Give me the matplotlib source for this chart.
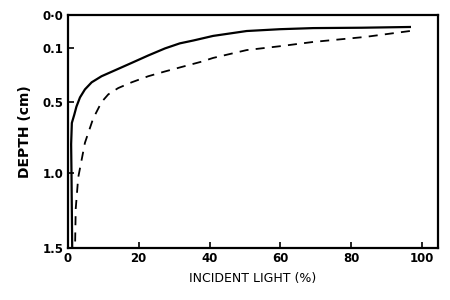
import numpy as np
import matplotlib
matplotlib.use('Agg')
import matplotlib.pyplot as plt

# depth axis of the original is not linear: tick value -> relative position
depth_ticks = [0.0, 0.1, 0.5, 1.0, 1.5]
depth_tick_labels = ['0·0', '0.1', '0.5', '1.0', '1.5']
depth_pos = [0, 33, 87, 158, 233]
light_ticks = [0, 20, 40, 60, 80, 100]

# solid curve (incident light %, depth cm)
solid_light = [96.6, 83.0, 69.3, 59.9, 50.5, 41.0, 35.5, 31.6, 27.4, 22.7, 18.0,
               13.3, 9.5, 6.7, 4.8, 3.4, 2.4, 1.8, 1.1, 0.9, 1.0, 1.2]
solid_depth = [0.032, 0.034, 0.035, 0.038, 0.043, 0.057, 0.071, 0.081, 0.102, 0.138, 0.182,
               0.233, 0.28, 0.333, 0.397, 0.465, 0.533, 0.59, 0.65, 0.80, 1.0, 1.5]

# dashed curve
dash_light = [96.6, 84.0, 69.3, 59.9, 50.5, 41.0, 37.8, 32.3, 27.4, 22.7, 18.0,
              14.2, 11.4, 9.5, 8.1, 7.1, 4.8, 2.9, 2.2, 2.0]
dash_depth = [0.043, 0.060, 0.076, 0.092, 0.110, 0.152, 0.174, 0.208, 0.242, 0.28, 0.333,
              0.385, 0.44, 0.50, 0.57, 0.62, 0.79, 1.03, 1.24, 1.5]


def pchip_slopes(x, y):
    x = np.asarray(x, float)
    y = np.asarray(y, float)
    h = np.diff(x)
    s = np.diff(y) / h
    d = np.zeros_like(y)
    for k in range(1, len(x) - 1):
        w1 = 2 * h[k] + h[k - 1]
        w2 = h[k] + 2 * h[k - 1]
        d[k] = (w1 + w2) / (w1 / s[k - 1] + w2 / s[k])
    d[0] = ((2 * h[0] + h[1]) * s[0] - h[0] * s[1]) / (h[0] + h[1])
    d[-1] = ((2 * h[-1] + h[-2]) * s[-1] - h[-1] * s[-2]) / (h[-1] + h[-2])
    return d


_slopes = pchip_slopes(depth_ticks, depth_pos)


def _hermite(v):
    xk = np.asarray(depth_ticks, float)
    yk = np.asarray(depth_pos, float)
    v = np.clip(np.asarray(v, float), xk[0], xk[-1])
    i = np.clip(np.searchsorted(xk, v) - 1, 0, len(xk) - 2)
    h = xk[i + 1] - xk[i]
    t = (v - xk[i]) / h
    return ((1 - 3 * t**2 + 2 * t**3) * yk[i] + (t - 2 * t**2 + t**3) * h * _slopes[i]
            + (3 * t**2 - 2 * t**3) * yk[i + 1] + (t**3 - t**2) * h * _slopes[i + 1])


_grid = np.linspace(0, 1.5, 3001)
_grid_pos = _hermite(_grid)


def fwd(d):
    return np.interp(d, _grid, _grid_pos)


def inv(p):
    return np.interp(p, _grid_pos, _grid)


plt.rcParams['font.family'] = ['DejaVu Sans']

fig = plt.figure(figsize=(4.5, 3), dpi=100)
ax = fig.add_axes([0.151, 0.173, 0.822, 0.777])

ax.plot(solid_light, solid_depth, color='black', lw=1.6)
ax.plot(dash_light, dash_depth, color='black', lw=1.3, dashes=(5, 4))

ax.set_yscale('function', functions=(fwd, inv))
ax.set_ylim(1.5, 0.0)
ax.set_xlim(0, 104.5)

ax.set_yticks(depth_ticks)
ax.set_yticklabels(depth_tick_labels)
ax.set_xticks(light_ticks)
ax.minorticks_off()

ax.tick_params(direction='in', length=4, width=1.2, labelsize=8.5, pad=3)
for lab in ax.get_yticklabels() + ax.get_xticklabels():
    lab.set_fontweight('bold')

for sp in ax.spines.values():
    sp.set_linewidth(1.6)

ax.set_xlabel('INCIDENT LIGHT (%)', fontsize=9, labelpad=5)
ax.set_ylabel('DEPTH (cm)', fontsize=10, fontweight='bold', labelpad=8)

plt.savefig('out.png', dpi=100, facecolor='white')
